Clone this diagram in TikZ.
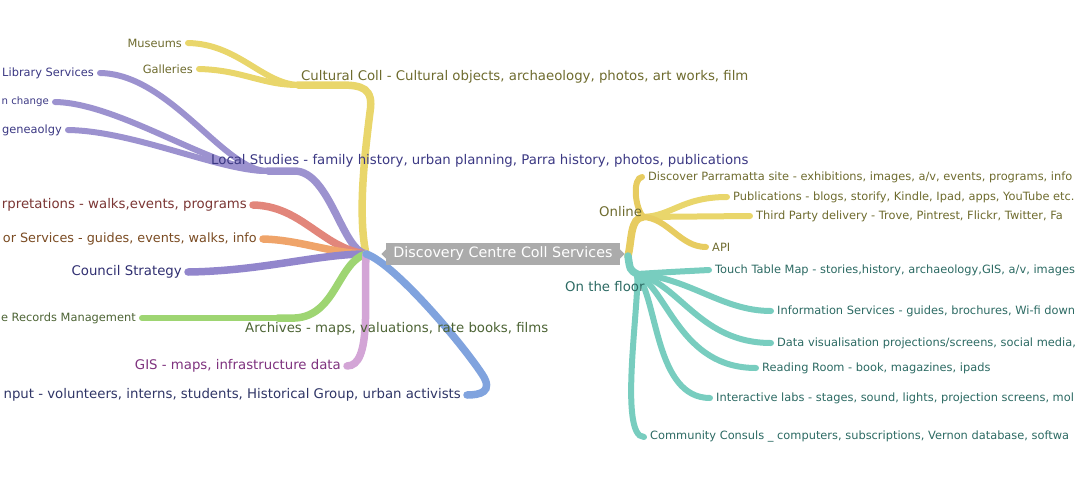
\documentclass[tikz,border=0pt]{standalone}
\usepackage{xcolor}
\usepackage{fontspec}
\setmainfont{DejaVu Sans}
\usepackage{tikz}
\usetikzlibrary{positioning, backgrounds}

\definecolor{hubgray}{HTML}{ABABAB}
\definecolor{yelline}{HTML}{E9D66B}
\definecolor{ochline}{HTML}{E7CC60}
\definecolor{lavline}{HTML}{9C92CF}
\definecolor{salline}{HTML}{E2867B}
\definecolor{orgline}{HTML}{EFA46A}
\definecolor{purline}{HTML}{9286CC}
\definecolor{grnline}{HTML}{9ED572}
\definecolor{pnkline}{HTML}{D3A5D6}
\definecolor{bluline}{HTML}{80A3DE}
\definecolor{tealine}{HTML}{78CDBF}
\definecolor{olivetx}{HTML}{6E6B2E}
\definecolor{navytx}{HTML}{3B3883}
\definecolor{redtx}{HTML}{7B3634}
\definecolor{browntx}{HTML}{7A4B22}
\definecolor{counciltx}{HTML}{2F2E70}
\definecolor{greentx}{HTML}{4C6334}
\definecolor{gistx}{HTML}{7E327E}
\definecolor{inputtx}{HTML}{2F3566}
\definecolor{floortx}{HTML}{2C6A63}

\begin{document}
\begin{tikzpicture}[x=1pt, y=-1pt,
    branch/.style={line width=7.5pt, line cap=round},
    twig/.style={line width=6pt, line cap=round},
    lvlone/.style={inner sep=0pt, font=\fontsize{13.3}{15}\selectfont},
    leaf/.style={inner xsep=6pt, inner ysep=1pt, font=\fontsize{11.4}{13}\selectfont},
    bigleaf/.style={leaf, font=\fontsize{13.3}{15}\selectfont},
    centre/.style={fill=hubgray, text=white, minimum width=234pt, minimum height=22pt,
      inner sep=0pt, font=\fontsize{14.3}{16}\selectfont}]
  \useasboundingbox (0,0) rectangle (1080,491);
  \clip (0,0) rectangle (1080,491);
  % Centre
  \node[centre] (dcs) at (503,254) {Discovery Centre Coll Services};
  \fill[hubgray] (dcs.west) ++(0.5,-5) -- ++(-5,5) -- ++(5,5) -- cycle;
  \fill[hubgray] (dcs.east) ++(-0.5,-5) -- ++(5,5) -- ++(-5,5) -- cycle;
  \coordinate (hubL) at (366,254);
  \coordinate (hubR) at (628,256);
  % Cultural Coll
  \coordinate (cultj) at (298,85);
  \node[lvlone, text=olivetx, anchor=west] (cult) at (301,77)
    {Cultural Coll - Cultural objects, archaeology, photos, art works, film};
  \node[leaf, text=olivetx, anchor=east] (mus) at (188,43) {Museums};
  \node[leaf, text=olivetx, anchor=east] (gal) at (199,69) {Galleries};
  % Local Studies
  \coordinate (locj) at (268,171);
  \node[lvlone, text=navytx, anchor=west] (loc) at (211,161)
    {Local Studies - family history, urban planning, Parra history, photos, publications};
  \node[leaf, text=navytx, anchor=east] (lib) at (100,73) {Library Services};
  \node[leaf, text=navytx, anchor=east, font=\fontsize{10.2}{12}\selectfont] (chg) at (55,102)
    {n change};
  \node[leaf, text=navytx, anchor=east] (gen) at (68,130) {geneaolgy};
  % Interpretations, Visitor Services, Council Strategy
  \node[bigleaf, text=redtx, anchor=east] (intp) at (253,205)
    {rpretations - walks,events, programs};
  \node[bigleaf, text=browntx, anchor=east, font=\fontsize{12.8}{15}\selectfont] (vis) at (263,239)
    {or Services - guides, events, walks, info};
  \node[bigleaf, text=counciltx, anchor=east] (cou) at (188,272) {Council Strategy};
  % Archives
  \coordinate (arcj) at (278,318);
  \node[lvlone, text=greentx, anchor=west] (arc) at (245,329)
    {Archives - maps, valuations, rate books, films};
  \node[leaf, text=greentx, anchor=east] (rec) at (142,318) {e Records Management};
  % GIS and Input
  \node[bigleaf, text=gistx, anchor=east] (gis) at (347,366)
    {GIS - maps, infrastructure data};
  \node[bigleaf, text=inputtx, anchor=east] (inp) at (467,395)
    {nput - volunteers, interns, students, Historical Group, urban activists};
  % Online
  \coordinate (onlj) at (643,217);
  \node[lvlone, text=olivetx, anchor=west] (onl) at (599,212) {Online};
  \node[leaf, text=olivetx, anchor=west] (disc) at (642,177)
    {Discover Parramatta site - exhibitions, images, a/v, events, programs, info};
  \node[leaf, text=olivetx, anchor=west] (pub) at (727,197)
    {Publications - blogs, storify, Kindle, Ipad, apps, YouTube etc.};
  \node[leaf, text=olivetx, anchor=west] (thp) at (750,216)
    {Third Party delivery - Trove, Pintrest, Flickr, Twitter, Fa};
  \node[leaf, text=olivetx, anchor=west] (api) at (706,247) {API};
  % On the floor
  \coordinate (flrj) at (637,274);
  \node[lvlone, text=floortx, anchor=west] (flr) at (565,287) {On the floor};
  \node[leaf, text=floortx, anchor=west] (tch) at (709,270)
    {Touch Table Map - stories,history, archaeology,GIS, a/v, images};
  \node[leaf, text=floortx, anchor=west] (info) at (771,311)
    {Information Services - guides, brochures, Wi-fi down};
  \node[leaf, text=floortx, anchor=west] (datv) at (771,343)
    {Data visualisation projections/screens, social media,};
  \node[leaf, text=floortx, anchor=west] (read) at (756,368)
    {Reading Room - book, magazines, ipads};
  \node[leaf, text=floortx, anchor=west] (ilab) at (710,398)
    {Interactive labs - stages, sound, lights, projection screens, mol};
  \node[leaf, text=floortx, anchor=west] (comm) at (644,437)
    {Community Consuls \_ computers, subscriptions, Vernon database, softwa};
  % Branches, under the texts
  \begin{scope}[on background layer]
    \draw[branch, yelline] (hubL) .. controls (358,215) and (364,160) .. (370,112)
      .. controls (374,88) and (362,85) .. (340,85) -- (cultj);
    \draw[twig, yelline] (cultj) .. controls (262,83) and (238,44) .. (mus.east);
    \draw[twig, yelline] (cultj) .. controls (262,85) and (242,70) .. (gal.east);
    \draw[branch, lavline] (hubL) .. controls (342,250) and (330,172) .. (295,171) -- (locj);
    \draw[twig, lavline] (locj) .. controls (225,172) and (170,74) .. (lib.east);
    \draw[twig, lavline] (locj) .. controls (218,172) and (120,103) .. (chg.east);
    \draw[twig, lavline] (locj) .. controls (222,172) and (135,131) .. (gen.east);
    \draw[branch, salline] (hubL) .. controls (322,248) and (302,206) .. (intp.east);
    \draw[branch, orgline] (hubL) .. controls (330,253) and (300,240) .. (vis.east);
    \draw[branch, purline] (hubL) .. controls (318,254) and (262,271) .. (cou.east);
    \draw[branch, grnline] (hubL) .. controls (338,262) and (336,316) .. (295,318) -- (arcj);
    \draw[twig, grnline] (arcj) -- (rec.east);
    \draw[branch, pnkline] (hubL) .. controls (364,300) and (372,366) .. (gis.east);
    \draw[branch, bluline] (hubL) .. controls (392,262) and (458,338) .. (482,374)
      .. controls (494,392) and (480,395) .. (inp.east);
    \draw[branch, ochline] (hubR) .. controls (632,240) and (630,218) .. (onlj);
    \draw[twig, ochline] (onlj) .. controls (634,205) and (633,178) .. (disc.west);
    \draw[twig, yelline] (onlj) .. controls (672,216) and (682,197) .. (pub.west);
    \draw[twig, yelline] (onlj) -- (thp.west);
    \draw[twig, ochline] (onlj) .. controls (668,218) and (680,247) .. (api.west);
    \draw[branch, tealine] (hubR) .. controls (630,270) .. (flrj);
    \draw[twig, tealine] (flrj) .. controls (670,272) .. (tch.west);
    \draw[twig, tealine] (flrj) .. controls (690,278) and (722,311) .. (info.west);
    \draw[twig, tealine] (flrj) .. controls (680,284) and (700,343) .. (datv.west);
    \draw[twig, tealine] (flrj) .. controls (668,290) and (680,368) .. (read.west);
    \draw[twig, tealine] (flrj) .. controls (658,300) and (655,398) .. (ilab.west);
    \draw[twig, tealine] (flrj) .. controls (640,300) and (618,437) .. (comm.west);
  \end{scope}
\end{tikzpicture}
\end{document}
